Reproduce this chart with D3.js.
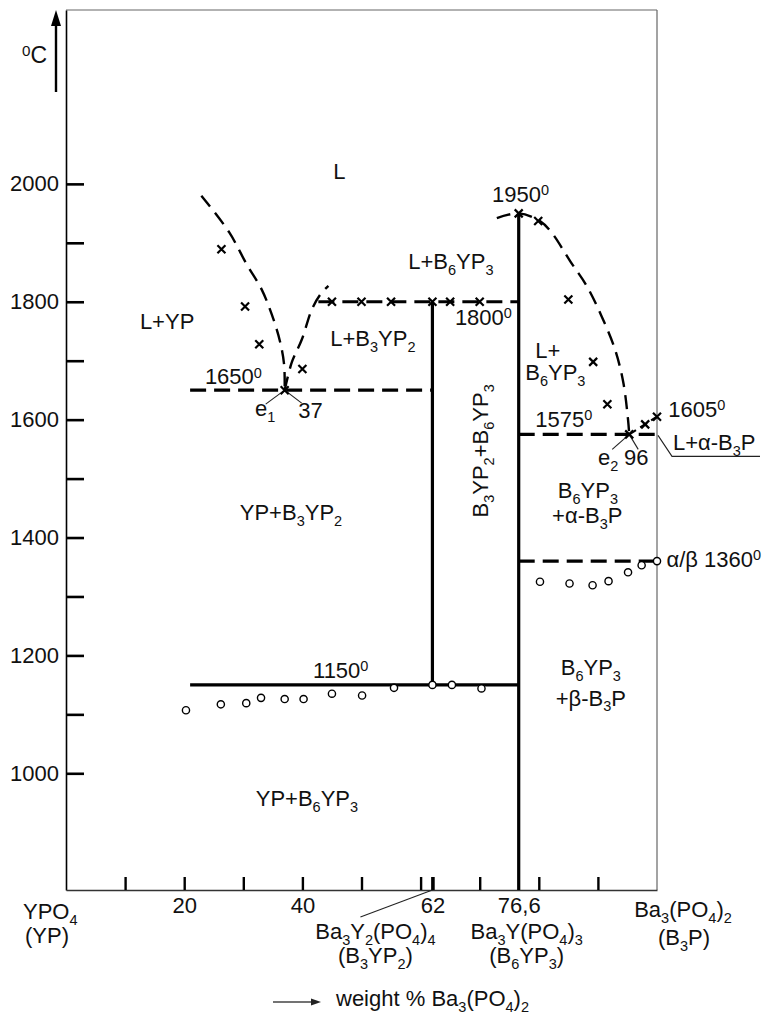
<!DOCTYPE html>
<html>
<head>
<meta charset="utf-8">
<script src="https://cdn.jsdelivr.net/npm/d3@7"></script>
<style>
  body { margin: 0; background: #fff; }
  text { font-family: "Liberation Sans", Arial, Helvetica, sans-serif; fill: #111; }
</style>
</head>
<body>
<div id="vis"></div>
<script>
// composition = weight % Ba3(PO4)2, temperature in deg C

// liquidus branches
const liquidusYP = [[22.9, 1980], [27.6, 1918], [30.6, 1863], [33.1, 1821], [34.8, 1779], [36.2, 1733], [36.9, 1694], [37, 1650]];
const liquidusB3YP2 = [[37, 1650], [38.2, 1697], [39.9, 1736], [41.6, 1787], [43, 1812], [44.4, 1827]];
const liquidusB6YP3 = [[72.9, 1942], [76.6, 1950], [80.2, 1937], [82.2, 1917], [85.3, 1869], [88.1, 1827], [90.6, 1776], [92.9, 1719], [94.3, 1663], [95.1, 1600], [95.3, 1575]];
const liquidusB3P = [[95.3, 1575], [100, 1605]];

// isotherms [temperature, from, to]
const dashedIsotherms = [[1800, 42.7, 76.6], [1650, 21, 62], [1575, 76.6, 100], [1360, 76.6, 100]];
const solidIsotherms = [[1150, 21, 76.6]];
// compound lines [composition, lowT, highT]
const compoundLines = [[62, 1150, 1800], [76.6, 802, 1950]];

// measured points
const crossPts = [[26.3, 1889], [30.3, 1792], [32.7, 1728], [37, 1650], [40, 1686],
  [45, 1800], [50, 1800], [55, 1800], [62, 1800], [65, 1800], [70, 1800],
  [76.6, 1950], [79.9, 1937], [85, 1804], [89.2, 1698], [91.6, 1626], [95.3, 1575], [98, 1592], [100, 1605]];
const circlePts = [[20.3, 1107], [26.2, 1117], [30.5, 1119], [33, 1128], [37, 1126], [40.2, 1126],
  [45, 1135], [50.1, 1132], [55.5, 1145], [62, 1150], [65.3, 1150], [70.3, 1144],
  [80.2, 1325], [85.2, 1322], [89.1, 1319], [91.8, 1326], [95.1, 1341], [97.4, 1353], [100, 1360]];

// axis ticks
const yTicks = [1100, 1200, 1300, 1400, 1500, 1600, 1700, 1800, 1900, 2000, 1000];
const xMinorTicks = [10, 20, 30, 40, 50, 60, 70, 80, 90];
const xLabelTicks = [20, 40, 62, 76.6];
const xLabelText = ["20", "40", "62", "76,6"];

const fs = 22;
const svg = d3.select("#vis").append("svg").attr("width", 763).attr("height", 1016);

const x = d3.scaleLinear().domain([0, 100]).range([66, 657]);
const y = d3.scaleLinear().domain([802, 2295]).range([890, 10]);

// rich text: _c subscript, ^c superscript
function rich(g, str, px, py, anchor, size) {
  size = size || fs;
  const t = g.append("text").attr("x", px).attr("y", py)
    .attr("font-size", size).attr("text-anchor", anchor || "start");
  const re = /([_^])(.)|([^_^]+)/g;
  let m, shift = 0;
  while ((m = re.exec(str))) {
    if (m[3]) {
      t.append("tspan").attr("dy", -shift).text(m[3]);
      shift = 0;
    } else {
      const d = m[1] === "_" ? 0.27 * size : -0.3 * size;
      t.append("tspan").attr("font-size", size * 0.66).attr("dy", d - shift).text(m[2]);
      shift = d;
    }
  }
  return t;
}

// frame
svg.append("line").attr("x1", x(0)).attr("x2", x(100)).attr("y1", y(2295)).attr("y2", y(2295))
  .attr("stroke", "#666").attr("stroke-width", 1.2);
svg.append("line").attr("x1", x(100)).attr("x2", x(100)).attr("y1", y(2295)).attr("y2", y(802))
  .attr("stroke", "#666").attr("stroke-width", 1.2);

// y axis
const yAxis = svg.append("g").attr("transform", `translate(${x(0)},0)`)
  .call(d3.axisLeft(y).tickValues(yTicks).tickSizeInner(-18).tickSizeOuter(0).tickPadding(7)
    .tickFormat(d => (d % 200 === 0 ? d : "")));
yAxis.select(".domain").attr("stroke", "#000").attr("stroke-width", 1.6);
yAxis.selectAll(".tick line").attr("stroke", "#000").attr("stroke-width", 2.6);
yAxis.selectAll("text").attr("font-size", fs).attr("fill", "#111")
  .attr("font-family", "Liberation Sans, Arial, sans-serif");

// x axis: ticks pointing inward
const xAxis = svg.append("g").attr("transform", `translate(0,${y(802)})`)
  .call(d3.axisBottom(x).tickValues(xMinorTicks.concat([62])).tickSizeInner(-13).tickSizeOuter(0).tickFormat(""));
xAxis.select(".domain").attr("stroke", "#333").attr("stroke-width", 1.6);
xAxis.selectAll(".tick line").attr("stroke", "#000").attr("stroke-width", d => (d === 62 ? 3.6 : 2.4));

const xLab = svg.append("g").attr("transform", `translate(0,${y(802)})`)
  .call(d3.axisBottom(x).tickValues(xLabelTicks).tickSize(0).tickPadding(7)
    .tickFormat((d, i) => xLabelText[i]));
xLab.select(".domain").remove();
xLab.selectAll("text").attr("font-size", fs).attr("fill", "#111")
  .attr("font-family", "Liberation Sans, Arial, sans-serif");

// temperature arrow
const ax = x(0) - 10;
svg.append("line").attr("x1", ax).attr("x2", ax).attr("y1", 92).attr("y2", 22)
  .attr("stroke", "#000").attr("stroke-width", 2.4);
svg.append("path").attr("d", `M${ax},10L${ax - 5},26L${ax + 5},26Z`).attr("fill", "#000");
rich(svg, "^0C", 22, 63, "start", 23);

const line = d3.line().x(d => x(d[0])).y(d => y(d[1]));
const curve = d3.line().x(d => x(d[0])).y(d => y(d[1])).curve(d3.curveCatmullRom);

// liquidus curves
[liquidusYP, liquidusB3YP2, liquidusB6YP3].forEach(c => {
  svg.append("path").attr("d", curve(c)).attr("fill", "none")
    .attr("stroke", "#000").attr("stroke-width", 2.4).attr("stroke-dasharray", "14,8");
});
svg.append("path").attr("d", line(liquidusB3P)).attr("fill", "none")
  .attr("stroke", "#000").attr("stroke-width", 2.2).attr("stroke-dasharray", "8,5");

// isotherms
svg.selectAll(".iso-d").data(dashedIsotherms).join("line").attr("class", "iso-d")
  .attr("x1", d => x(d[1])).attr("x2", d => x(d[2]))
  .attr("y1", d => y(d[0])).attr("y2", d => y(d[0]))
  .attr("stroke", "#000").attr("stroke-width", 3.2).attr("stroke-dasharray", "16,8");
svg.selectAll(".iso-s").data(solidIsotherms).join("line").attr("class", "iso-s")
  .attr("x1", d => x(d[1])).attr("x2", d => x(d[2]))
  .attr("y1", d => y(d[0])).attr("y2", d => y(d[0]))
  .attr("stroke", "#000").attr("stroke-width", 3.2);
svg.selectAll(".comp").data(compoundLines).join("line").attr("class", "comp")
  .attr("x1", d => x(d[0])).attr("x2", d => x(d[0]))
  .attr("y1", d => y(d[1])).attr("y2", d => y(d[2]))
  .attr("stroke", "#000").attr("stroke-width", 3.2);

// leader lines
const thin = (x1, y1, x2, y2) => svg.append("line").attr("x1", x1).attr("y1", y1)
  .attr("x2", x2).attr("y2", y2).attr("stroke", "#222").attr("stroke-width", 1.1);
const e1 = [x(37), y(1650)], e2 = [x(95.3), y(1575)];
thin(e1[0], e1[1], e1[0] - 19, e1[1] + 14);
thin(e1[0], e1[1], e1[0] + 17, e1[1] + 13);
thin(e2[0], e2[1], e2[0] - 17, e2[1] + 15);
thin(e2[0], e2[1], e2[0] + 9, e2[1] + 15);
svg.append("path").attr("fill", "none").attr("stroke", "#222").attr("stroke-width", 1.1)
  .attr("d", `M${x(100) + 1},${y(1575) + 1}L${x(100) + 15},${y(1575) + 22}L${x(100) + 103},${y(1575) + 22}`);
thin(x(62), y(802), x(62) - 72, y(802) + 27);

// points
svg.selectAll(".cross").data(crossPts).join("path").attr("class", "cross")
  .attr("transform", d => `translate(${x(d[0])},${y(d[1])})`)
  .attr("d", "M-4,-4L4,4M4,-4L-4,4")
  .attr("stroke", "#000").attr("stroke-width", 2.2);
svg.selectAll(".circ").data(circlePts).join("circle").attr("class", "circ")
  .attr("cx", d => x(d[0])).attr("cy", d => y(d[1])).attr("r", 3.6)
  .attr("fill", "#fff").attr("stroke", "#000").attr("stroke-width", 1.4);

// field and point annotations: [text, composition, temperature, anchor]
const notes = [
  ["L", 45.2, 2008], ["L+YP", 12.5, 1754], ["L+B_3YP_2", 44.7, 1725], ["L+B_6YP_3", 57.9, 1856],
  ["L+", 79.4, 1705], ["B_6YP_3", 77.7, 1667], ["YP+B_3YP_2", 29.4, 1429],
  ["B_6YP_3", 88.3, 1467, "middle"], ["+α-B_3P", 88.2, 1425, "middle"],
  ["B_6YP_3", 88.8, 1167, "middle"], ["+β-B_3P", 88.8, 1115, "middle"],
  ["YP+B_6YP_3", 32.1, 945], ["L+α-B_3P", 102.7, 1549],
  ["1950^0", 72.1, 1970], ["1800^0", 65.8, 1761], ["1650^0", 23.5, 1660], ["1575^0", 79.4, 1588],
  ["1605^0", 101.9, 1605], ["α/β 1360^0", 101.6, 1350], ["1150^0", 41.8, 1162],
  ["e_1", 32, 1606], ["37", 39.3, 1603], ["e_2", 90, 1523], ["96", 94.4, 1523]
];
notes.forEach(n => rich(svg, n[0], x(n[1]), y(n[2]), n[3]));

svg.append("g").attr("transform", `translate(${x(71.4)},${y(1547)}) rotate(-90)`)
  .call(g => rich(g, "B_3YP_2+B_6YP_3", 0, 0, "middle"));

// composition labels below the axis
const yb = y(802);
rich(svg, "YPO_4", x(0) - 43, yb + 29, "start");
rich(svg, "(YP)", x(0) - 41, yb + 53, "start");
rich(svg, "Ba_3Y_2(PO_4)_4", x(62) - 57, yb + 49, "middle");
rich(svg, "(B_3YP_2)", x(62) - 57, yb + 73, "middle");
rich(svg, "Ba_3Y(PO_4)_3", x(76.6) + 8, yb + 49, "middle");
rich(svg, "(B_6YP_3)", x(76.6) + 8, yb + 73, "middle");
rich(svg, "Ba_3(PO_4)_2", x(100) + 26, yb + 27, "middle");
rich(svg, "(B_3P)", x(100) + 27, yb + 55, "middle");

// axis title with arrow
svg.append("line").attr("x1", 273).attr("x2", 313).attr("y1", yb + 112).attr("y2", yb + 112)
  .attr("stroke", "#444").attr("stroke-width", 1.4);
svg.append("path").attr("d", `M321,${yb + 112}L311,${yb + 108.5}L311,${yb + 115.5}Z`).attr("fill", "#222");
rich(svg, "weight % Ba_3(PO_4)_2", 336, yb + 116, "start");
</script>
</body>
</html>
